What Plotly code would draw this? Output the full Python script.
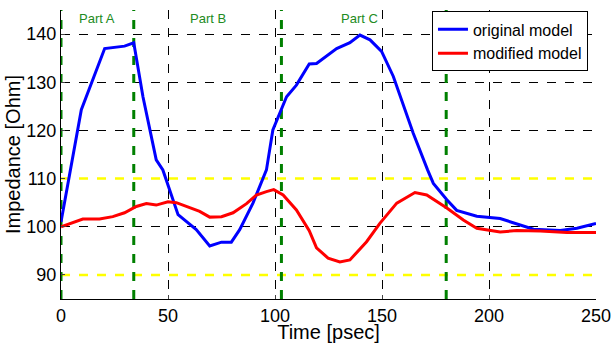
import plotly.graph_objects as go

# Original model (blue)
orig_t = [0, 9.5, 20.4, 29.7, 34, 38.3, 44.5, 47.6, 54.7, 63.2, 69.5, 75, 79.6, 83.5, 89.7, 96,
          99, 105.4, 110, 116, 119.4, 128.8, 135, 139.7, 144.4, 149.8, 155.3, 164.6, 171.3, 174,
          180.3, 184.9, 194.3, 200.5, 205.2, 220.8, 233.3, 241.1, 250]
orig_z = [101, 124.3, 137.0, 137.5, 138.2, 127, 113.9, 111.8, 102.5, 99.4, 96.0, 96.8, 96.8, 99.4,
          104.9, 111.8, 120.1, 127, 129.4, 133.8, 133.9, 137, 138.2, 139.8, 138.8, 136.4, 131.2,
          119.4, 111.8, 109, 105.6, 103.4, 102.2, 102, 101.7, 99.5, 99.2, 99.7, 100.7]

# Modified model (red)
mod_t = [0, 10.2, 18, 24.2, 29.7, 35.2, 39.9, 44.5, 50, 53.9, 64.8, 69.5, 75, 80.4, 86.7, 91.3,
         96, 99.4, 103.8, 110, 116, 119.4, 124.8, 130.3, 135, 142.8, 149, 156.9, 165.4, 170.9,
         180.3, 188, 194.3, 205.2, 213, 224, 236.4, 250]
mod_z = [100, 101.6, 101.6, 102.1, 102.9, 104.2, 104.8, 104.5, 105.2, 105, 103.2, 102.0, 102.1,
         102.9, 104.8, 106.6, 107.3, 107.7, 106.6, 103.5, 99.2, 95.6, 93.5, 92.7, 93.1, 96.9,
         100.7, 104.9, 107.1, 106.6, 103.9, 101.4, 99.7, 98.9, 99.2, 99.1, 98.8, 98.8]

part_bounds = [0, 34, 103, 180]
part_labels = ["Part A", "Part B", "Part C"]
part_label_x = [16.6, 68.6, 139.5]
limit_levels = [110, 90]

x_ticks = [0, 50, 100, 150, 200, 250]
y_ticks = [90, 100, 110, 120, 130, 140]

FONT = "Liberation Sans, Arial, sans-serif"

fig = go.Figure()

for lv in limit_levels:
    fig.add_trace(go.Scatter(x=[0, 250], y=[lv, lv], mode="lines",
                             line=dict(color="#ffff00", width=2.5, dash="dash"),
                             showlegend=False, hoverinfo="skip"))
for b in part_bounds:
    fig.add_trace(go.Scatter(x=[b, b], y=[85, 145], mode="lines",
                             line=dict(color="#008000", width=3, dash="dash"),
                             showlegend=False, hoverinfo="skip"))

fig.add_trace(go.Scatter(x=orig_t, y=orig_z, mode="lines", name="original model",
                         line=dict(color="#0000ff", width=3)))
fig.add_trace(go.Scatter(x=mod_t, y=mod_z, mode="lines", name="modified model",
                         line=dict(color="#ff0000", width=3)))

for lx, lt in zip(part_label_x, part_labels):
    fig.add_annotation(x=lx, y=143.3, text=lt, showarrow=False,
                       font=dict(family=FONT, size=13, color="#228b22"))

fig.update_layout(
    width=612, height=343,
    margin=dict(l=61, r=16, t=10, b=44),
    paper_bgcolor="white", plot_bgcolor="white",
    font=dict(family=FONT, color="black"),
    legend=dict(x=0.985, y=0.995, xanchor="right", yanchor="top",
                bgcolor="white", bordercolor="black", borderwidth=1,
                font=dict(family=FONT, size=16), tracegroupgap=0,
                itemwidth=30),
)
fig.update_xaxes(range=[0, 250], tickvals=x_ticks, ticks="inside", ticklen=4,
                 showline=True, linecolor="black", linewidth=1, automargin=False,
                 ticklabeloverflow="allow",
                 showgrid=True, gridcolor="black", gridwidth=1, griddash="dash",
                 zeroline=False, tickfont=dict(size=18),
                 title=dict(text="Time [psec]", font=dict(size=20), standoff=0))
fig.update_yaxes(range=[85, 145], tickvals=y_ticks, ticks="inside", ticklen=4,
                 showline=True, linecolor="black", linewidth=1, automargin=False,
                 ticklabeloverflow="allow",
                 showgrid=True, gridcolor="black", gridwidth=1, griddash="dash",
                 zeroline=False, tickfont=dict(size=18),
                 title=dict(text="Impedance [Ohm]", font=dict(size=20), standoff=0))

fig.write_html(
    "out.html",
    config={"displayModeBar": False},
    post_script="document.body.style.margin='0';document.body.style.overflow='hidden';",
)
